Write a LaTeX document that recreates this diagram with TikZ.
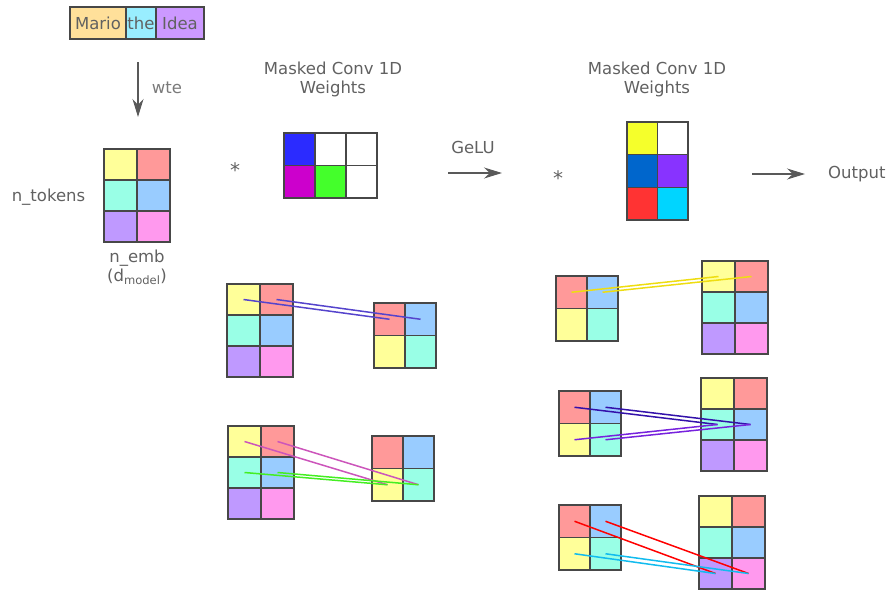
\documentclass[tikz,border=0pt]{standalone}
\usepackage{fontspec}
\setmainfont{DejaVu Sans}
\usetikzlibrary{arrows.meta}
% Farben der Einbettungen
\definecolor{tokMario}{HTML}{FFE09A}
\definecolor{tokThe}{HTML}{99EEFF}
\definecolor{tokIdea}{HTML}{CC99FF}
\definecolor{cYellow}{HTML}{FFFF99}
\definecolor{cSalmon}{HTML}{FF9999}
\definecolor{cAqua}{HTML}{99FFE6}
\definecolor{cBlue}{HTML}{99CCFF}
\definecolor{cPurple}{HTML}{BF99FF}
\definecolor{cPink}{HTML}{FF99EE}
% Farben der Gewichte
\definecolor{wBlue}{HTML}{2B2BFF}
\definecolor{wMagenta}{HTML}{CC00CC}
\definecolor{wGreen}{HTML}{44FF2B}
\definecolor{wYellow}{HTML}{F5FF2B}
\definecolor{wNavy}{HTML}{0066CC}
\definecolor{wViolet}{HTML}{8833FF}
\definecolor{wRed}{HTML}{FF3333}
\definecolor{wCyan}{HTML}{00D5FF}
% Farben der Verbindungslinien
\definecolor{lnBlue}{HTML}{5544CC}
\definecolor{lnMagenta}{HTML}{CC55BB}
\definecolor{lnGreen}{HTML}{44EE22}
\definecolor{lnYellow}{HTML}{EEDD11}
\definecolor{lnIndigo}{HTML}{3311AA}
\definecolor{lnViolet}{HTML}{7722DD}
\definecolor{lnRed}{HTML}{FF0000}
\definecolor{lnCyan}{HTML}{11BBEE}
\tikzset{
  cell/.style={draw=black!72,line width=1.4pt,inner sep=0pt,outer sep=0pt},
  lbl/.style={text=black!62,font=\fontsize{16.5}{19}\selectfont,align=center},
  flow/.style={-{Stealth[length=18pt,width=11pt]},draw=black!65,line width=1.3pt},
  link/.style={line width=1.5pt},
}
% #1 Name, #2/#3 linke obere Ecke, #4/#5 Zellbreite/-hoehe, #6 Zeile/Spalte/Farbe
\newcommand{\zellen}[6]{%
  \foreach \r/\c/\f in {#6}{%
    \node[cell,fill=\f,minimum width=#4pt,minimum height=#5pt] (#1-\r\c)
      at ({#2+(\c-0.5)*#4},{#3+(\r-0.5)*#5}) {};
  }%
}
% Einbettung (2 Spalten, 3 Zeilen) und Ausschnitt (2x2)
\newcommand{\embmat}[3]{\zellen{#1}{#2}{#3}{33}{31}{1/1/cYellow,1/2/cSalmon,2/1/cAqua,2/2/cBlue,3/1/cPurple,3/2/cPink}}
\newcommand{\pairmat}[3]{\zellen{#1}{#2}{#3}{31}{32.5}{1/1/cSalmon,1/2/cBlue,2/1/cYellow,2/2/cAqua}}
\begin{document}
\begin{tikzpicture}[x=1pt,y=-1pt]
\useasboundingbox (0,0) rectangle (889,590);
%
% --- Tokens und Einbettung ---
\node[cell,lbl,fill=tokMario,minimum width=56pt,minimum height=32pt] (tok-mario) at (98,23) {Mario};
\node[cell,lbl,fill=tokThe,minimum width=30pt,minimum height=32pt] (tok-the) at (141,23) {the};
\node[cell,lbl,fill=tokIdea,minimum width=48pt,minimum height=32pt] (tok-idea) at (180,23) {Idea};
\coordinate (wte-a) at (138,62);
\coordinate (wte-b) at (138,117);
\draw[flow] (wte-a) -- (wte-b);
\node[lbl,text=black!52] (wte) at (167,88) {wte};
\embmat{emb}{104}{149}
\node[lbl] (ntok) at (48.5,197) {n\_tokens};
\node[lbl] (nemb) at (137,267) {n\_emb\\(d\textsubscript{model})};
%
% --- erste Faltung ---
\node[lbl,font=\fontsize{20}{20}\selectfont] (star1) at (235,170) {*};
\node[lbl] (conv1) at (333,79.5) {Masked Conv 1D\\Weights};
\zellen{wa}{284}{133}{31}{32.5}{1/1/wBlue,1/2/white,1/3/white,2/1/wMagenta,2/2/wGreen,2/3/white}
%
% --- GeLU und zweite Faltung ---
\coordinate (gelu-a) at (448,173);
\coordinate (gelu-b) at (502,173);
\draw[flow] (gelu-a) -- (gelu-b);
\node[lbl] (gelu) at (473,147) {GeLU};
\node[lbl,font=\fontsize{20}{20}\selectfont] (star2) at (558,178) {*};
\node[lbl] (conv2) at (657,79.5) {Masked Conv 1D\\Weights};
\zellen{wb}{627}{122}{30.5}{32.7}{1/1/wYellow,1/2/white,2/1/wNavy,2/2/wViolet,3/1/wRed,3/2/wCyan}
\coordinate (out-a) at (752,174);
\coordinate (out-b) at (805,174);
\draw[flow] (out-a) -- (out-b);
\node[lbl,anchor=west,inner sep=0pt] (out) at (828,174) {Output};
%
% --- Beispiele erste Faltung (links) ---
\embmat{pa}{227}{284}
\pairmat{qa}{374}{303}
\embmat{pb}{228}{426}
\pairmat{qb}{372}{436}
\draw[link,lnBlue] (pa-11.center) -- (qa-11.center);
\draw[link,lnBlue] (pa-12.center) -- (qa-12.center);
\draw[link,lnMagenta] (pb-11.center) -- (qb-21.center);
\draw[link,lnMagenta] (pb-12.center) -- (qb-22.center);
\draw[link,lnGreen] (pb-21.center) -- (qb-21.center);
\draw[link,lnGreen] (pb-22.center) -- (qb-22.center);
%
% --- Beispiele zweite Faltung (rechts) ---
\pairmat{pc}{556}{276}
\embmat{qc}{702}{261}
\pairmat{pd}{559}{391}
\embmat{qd}{701}{378}
\pairmat{pe}{559}{505}
\embmat{qe}{699}{496}
\draw[link,lnYellow] (pc-11.center) -- (qc-11.center);
\draw[link,lnYellow] (pc-12.center) -- (qc-12.center);
\draw[link,lnIndigo] (pd-11.center) -- (qd-21.center);
\draw[link,lnIndigo] (pd-12.center) -- (qd-22.center);
\draw[link,lnViolet] (pd-21.center) -- (qd-21.center);
\draw[link,lnViolet] (pd-22.center) -- (qd-22.center);
\draw[link,lnRed] (pe-11.center) -- (qe-31.center);
\draw[link,lnRed] (pe-12.center) -- (qe-32.center);
\draw[link,lnCyan] (pe-21.center) -- (qe-31.center);
\draw[link,lnCyan] (pe-22.center) -- (qe-32.center);
\end{tikzpicture}
\end{document}
